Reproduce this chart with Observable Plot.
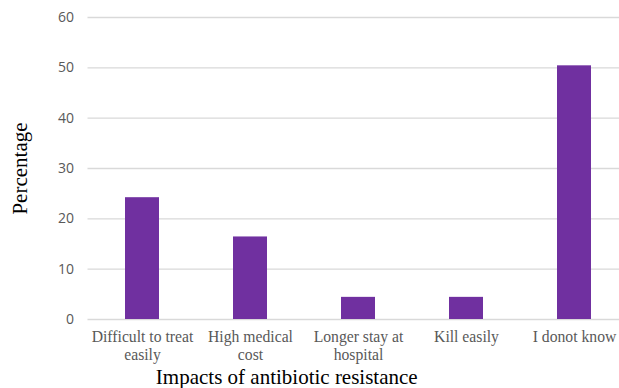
<!DOCTYPE html>
<html>
<head>
<meta charset="utf-8">
<script src="https://cdn.jsdelivr.net/npm/d3@7"></script>
<script src="https://cdn.jsdelivr.net/npm/@observablehq/plot@0.6"></script>
<style>
  html, body { margin: 0; padding: 0; background: #fff; overflow: hidden; }
  #chart { width: 619px; height: 388px; overflow: hidden; }
</style>
</head>
<body>
<div id="chart"></div>
<script>
// Impacts of antibiotic resistance (% of respondents)
const categories = [
  "Difficult to treat\neasily",
  "High medical\ncost",
  "Longer stay at\nhospital",
  "Kill easily",
  "I donot know"
];
const percentages = [24.2, 16.4, 4.4, 4.4, 50.4];
const yTicks = [0, 10, 20, 30, 40, 50, 60];

const data = categories.map((c, i) => ({category: c, value: percentages[i]}));

const serif = "'Liberation Serif', 'Times New Roman', serif";
const sans = "'Open Sans', 'Liberation Sans', sans-serif";

const chart = Plot.plot({
  width: 629,
  height: 388,
  marginLeft: 87.5,
  marginRight: 0,
  marginTop: 17,
  marginBottom: 69,
  style: {background: "#fff", overflow: "visible", maxWidth: "none"},
  x: {domain: categories, paddingInner: 0.686, paddingOuter: 0.343, label: null},
  y: {domain: [0, 60], label: null},
  marks: [
    Plot.gridY(yTicks, {stroke: "#d9d9d9", strokeOpacity: 1, strokeWidth: 1.3}),
    Plot.axisY(yTicks, {
      tickSize: 0, tickPadding: 14, label: null,
      fontSize: 14, fontFamily: sans, fill: "#595959"
    }),
    Plot.axisX({
      tickSize: 0, tickPadding: 10, label: null,
      fontSize: 15.7, fontFamily: serif, fill: "#595959", lineHeight: 1.15
    }),
    Plot.barY(data, {x: "category", y: "value", fill: "#7030a0"}),
    Plot.text(["Percentage"], {
      frameAnchor: "left", textAnchor: "middle", lineAnchor: "middle",
      rotate: -90, dx: -67.5,
      fontSize: 21, fontFamily: serif, fill: "#000"
    }),
    Plot.text(["Impacts of antibiotic resistance"], {
      frameAnchor: "bottom", textAnchor: "middle", lineAnchor: "middle",
      dx: -72, dy: 58,
      fontSize: 21, fontFamily: serif, fill: "#000"
    })
  ]
});
document.getElementById("chart").append(chart);
</script>
</body>
</html>
